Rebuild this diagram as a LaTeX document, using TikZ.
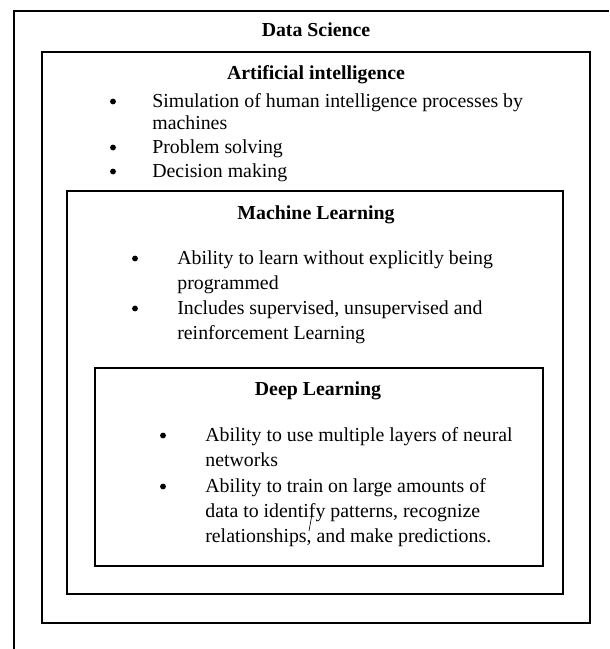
\documentclass[tikz,border=0pt]{standalone}
\usepackage{fontspec}
\setmainfont{Liberation Serif}

\newcommand{\bodyfont}{\fontsize{11.9pt}{15pt}\selectfont}
\newcommand{\tightfont}{\fontsize{11.9pt}{13.2pt}\selectfont}
\tikzset{%
  frame/.style={line width=1.1pt},
  head/.style={font=\bodyfont\bfseries, anchor=base, inner sep=0pt},
  dot/.style={circle, fill, inner sep=0pt, minimum size=3.5pt},
  % base of a multi-line entry is the baseline of its last line
  entry/.style={anchor=base west, inner sep=0pt, align=left},
}

\begin{document}
\begin{tikzpicture}[x=0.6pt, y=-0.6pt, font=\bodyfont]
    \useasboundingbox (0,0) rectangle (609,649);

    %nested frames, the outer one runs off the page
    \draw[frame] (14,649) -- (14,11) -- (609,11);
    \draw[frame] (42,52) rectangle (590,623);
    \draw[frame] (67,191) rectangle (563,594);
    \draw[frame] (95,368) rectangle (543,566);

    %headings
    \node[head] (ds) at (316,36) {Data Science};
    \node[head] (ai) at (316,79) {Artificial intelligence};
    \node[head] (ml) at (316,219) {Machine Learning};
    \node[head] (dl) at (318,395) {Deep Learning};

    %artificial intelligence
    \node[dot] (ai1) at (113,101.5) {};
    \node[entry, font=\tightfont] (aitxt1) at (152,129)
        {Simulation of human intelligence processes by\\machines};
    \node[dot] (ai2) at (113,147.5) {};
    \node[entry] (aitxt2) at (152,153) {Problem solving};
    \node[dot] (ai3) at (113,171.5) {};
    \node[entry] (aitxt3) at (152,177) {Decision making};

    %machine learning
    \node[dot] (ml1) at (135,258.5) {};
    \node[entry] (mltxt1) at (177,289)
        {Ability to learn without explicitly being\\programmed};
    \node[dot] (ml2) at (135,308.5) {};
    \node[entry] (mltxt2) at (177,339)
        {Includes supervised, unsupervised and\\reinforcement Learning};

    %deep learning
    \node[dot] (dl1) at (163,435.5) {};
    \node[entry] (dltxt1) at (205,466)
        {Ability to use multiple layers of neural\\networks};
    \node[dot] (dl2) at (163,486.5) {};
    \node[entry] (dltxt2) at (205,542)
        {Ability to train on large amounts of\\data to identify patterns, recognize\\relationships, and make predictions.};

    %stray pen stroke
    \coordinate (s1) at (312,514);
    \coordinate (s2) at (309,531);
    \draw[line width=0.4pt] (s1) -- (s2);
\end{tikzpicture}
\end{document}
